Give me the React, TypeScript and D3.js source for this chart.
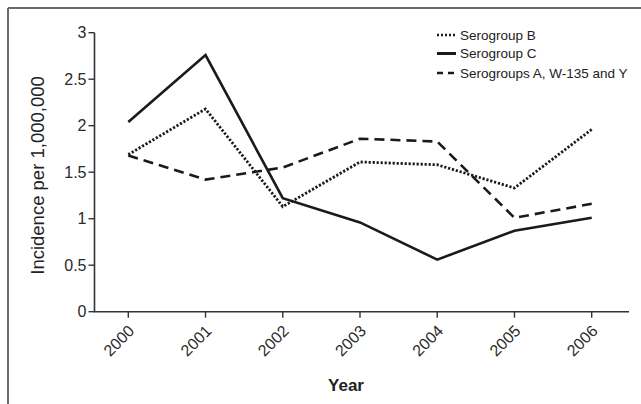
import React from "react";
import * as d3 from "d3";

const years = [2000, 2001, 2002, 2003, 2004, 2005, 2006];
const serogroupB = [1.69, 2.18, 1.13, 1.61, 1.58, 1.33, 1.96];
const serogroupC = [2.04, 2.76, 1.22, 0.96, 0.56, 0.87, 1.01];
const serogroupsAWY = [1.68, 1.42, 1.55, 1.86, 1.83, 1.01, 1.16];
const yTicks = [0, 0.5, 1, 1.5, 2, 2.5, 3];

const seriesNames = ["Serogroup B", "Serogroup C", "Serogroups A, W-135 and Y"];

const FONT = "'Liberation Sans', Arial, Helvetica, sans-serif";
const INK = "#1a1a1a";
const AXIS = "#333";

export default function App() {
  const x = d3.scaleLinear().domain([2000, 2006]).range([128.3, 591.7]);
  const y = d3.scaleLinear().domain([0, 3]).range([311.7, 32.7]);
  const axisLeft = 94.5;
  const axisRight = 629;
  const axisBottom = y(0);

  const line = d3
    .line<number>()
    .x((_, i) => x(years[i]))
    .y((v) => y(v));

  const styles = [
    { dash: "2.2,1.8", width: 2.8 },
    { dash: "none", width: 2.6 },
    { dash: "10,6", width: 2.6 },
  ];
  const data = [serogroupB, serogroupC, serogroupsAWY];

  const legendX = 437;
  const legendY = [35, 53.5, 73];

  return (
    <svg
      width={641}
      height={404}
      style={{ position: "absolute", left: 0, top: 0, background: "#fff" }}
      fontFamily={FONT}
    >
      <rect x={0} y={0} width={641} height={404} fill="#fff" />
      {/* frame */}
      <line x1={8} y1={8} x2={641} y2={8} stroke="#6b6b6b" strokeWidth={2} />
      <line x1={8} y1={8} x2={8} y2={404} stroke="#6b6b6b" strokeWidth={2} />

      {/* y axis */}
      <line x1={axisLeft} y1={y(3)} x2={axisLeft} y2={axisBottom} stroke={AXIS} strokeWidth={1.6} />
      {yTicks.map((t) => (
        <g key={t}>
          <line x1={axisLeft - 6} x2={axisLeft} y1={y(t)} y2={y(t)} stroke={AXIS} strokeWidth={1.4} />
          <text
            x={86.5}
            y={y(t)}
            dy="0.36em"
            textAnchor="end"
            fontSize={16}
            fill="#2a2a2a"
          >
            {String(t)}
          </text>
        </g>
      ))}

      {/* x axis */}
      <line x1={axisLeft - 0.8} y1={axisBottom} x2={axisRight} y2={axisBottom} stroke={AXIS} strokeWidth={1.6} />
      {years.map((yr) => (
        <g key={yr}>
          <line x1={x(yr)} x2={x(yr)} y1={axisBottom} y2={axisBottom + 6} stroke={AXIS} strokeWidth={1.4} />
          <text
            transform={`translate(${x(yr) + 7},${332}) rotate(-45)`}
            textAnchor="end"
            fontSize={16}
            fill="#2a2a2a"
          >
            {String(yr)}
          </text>
        </g>
      ))}

      {/* axis titles */}
      <text
        transform={`translate(44,175.5) rotate(-90)`}
        textAnchor="middle"
        fontSize={18.5}
        fill="#222"
      >
        Incidence per 1,000,000
      </text>
      <text x={346} y={391} textAnchor="middle" fontSize={17} fontWeight="bold" fill="#222">
        Year
      </text>

      {/* lines */}
      {data.map((d, i) => (
        <path
          key={i}
          d={line(d) || ""}
          fill="none"
          stroke={INK}
          strokeWidth={styles[i].width}
          strokeDasharray={styles[i].dash}
          strokeLinejoin="miter"
        />
      ))}

      {/* legend */}
      {seriesNames.map((name, i) => (
        <g key={name}>
          <line
            x1={legendX}
            x2={legendX + 19}
            y1={legendY[i]}
            y2={legendY[i]}
            stroke={INK}
            strokeWidth={i === 1 ? 3 : 2.6}
            strokeDasharray={i === 0 ? "2,2" : i === 2 ? "6,5" : "none"}
          />
          <text x={legendX + 23} y={legendY[i]} dy="0.35em" fontSize={13.5} fill="#222">
            {name}
          </text>
        </g>
      ))}
    </svg>
  );
}
